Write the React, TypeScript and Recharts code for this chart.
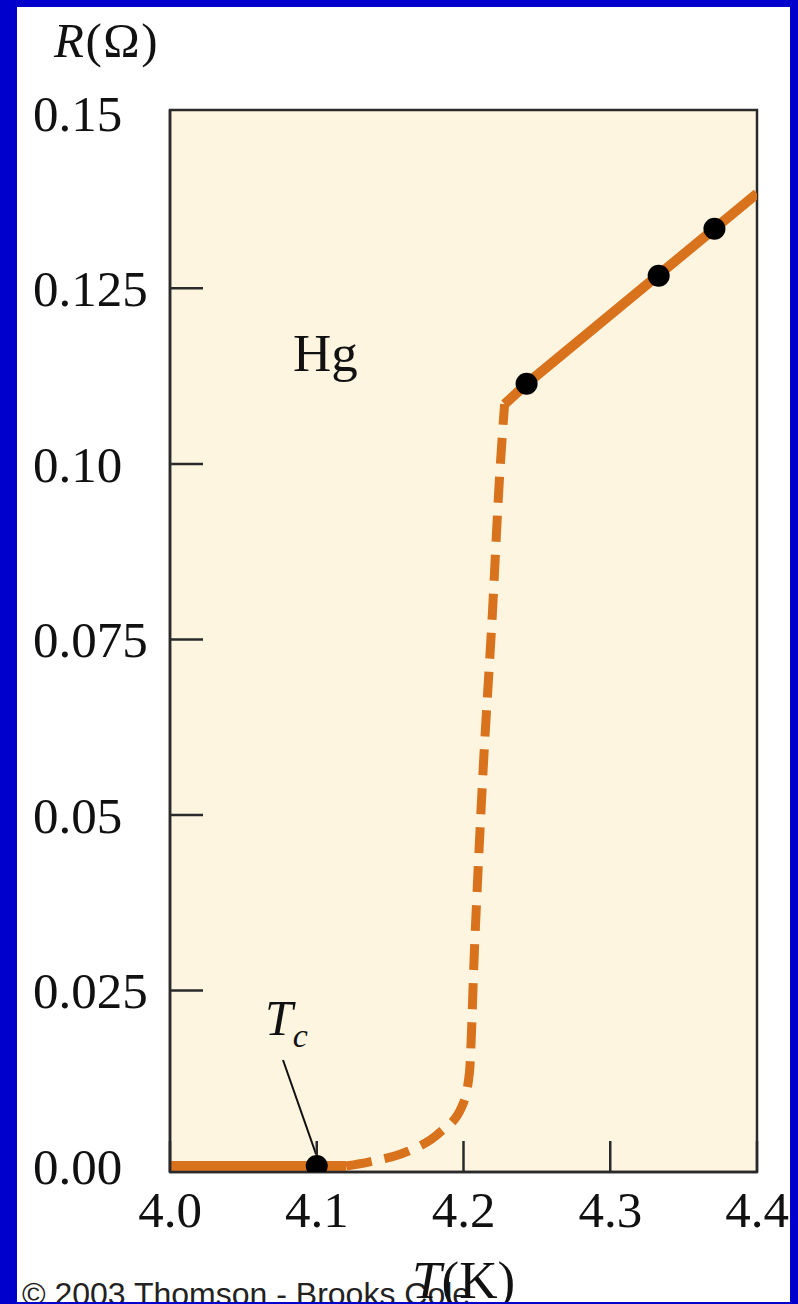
import React from 'react';
import { ComposedChart, Line, Scatter, XAxis, YAxis, ReferenceArea, ReferenceLine } from 'recharts';

// axis ticks
const xTicks = [4.0, 4.1, 4.2, 4.3, 4.4];
const xTickLabels = ['4.0', '4.1', '4.2', '4.3', '4.4'];
const yTicks = [0, 0.025, 0.05, 0.075, 0.1, 0.125, 0.15];
const yTickLabels = ['0.00', '0.025', '0.05', '0.075', '0.10', '0.125', '0.15'];

// superconducting part (solid, R = 0)
const superTemps = [4.0, 4.12];
const superRes = [0, 0];
// transition (dashed)
const transTemps = [4.12, 4.136, 4.161, 4.184, 4.199, 4.204, 4.2075, 4.213, 4.2197, 4.2245, 4.228];
const transRes = [0, 0.0006, 0.002, 0.0048, 0.0085, 0.0132, 0.031, 0.055, 0.0788, 0.0979, 0.1085];
// normal state (solid)
const normalTemps = [4.228, 4.243, 4.4];
const normalRes = [0.1085, 0.1114, 0.1385];
// measured points
const measTemps = [4.1, 4.243, 4.333, 4.371];
const measRes = [0, 0.1114, 0.1268, 0.1335];

const toRows = (ts: number[], rs: number[]) => ts.map((t, i) => ({ t, r: rs[i] }));
const superData = toRows(superTemps, superRes);
const transData = toRows(transTemps, transRes);
const normalData = toRows(normalTemps, normalRes);
const measData = toRows(measTemps, measRes);

const ORANGE = '#D8721C';
const CREAM = '#FEF5E0';
const INK = '#2a2a2a';
const SERIF = '"Liberation Serif", "DejaVu Serif", serif';
const PLOT_LEFT = 170;

// label at the left edge, tick mark pointing into the plot (none at the frame edges)
const YTick = (props: any) => {
  const i = yTicks.indexOf(props.payload.value);
  const edge = i === 0 || i === yTicks.length - 1;
  return (
    <g>
      {!edge && <line x1={PLOT_LEFT} x2={PLOT_LEFT + 33} y1={props.y} y2={props.y} stroke={INK} strokeWidth={2.5} />}
      <text x={33} y={props.y + 18} fontFamily={SERIF} fontSize={51} fill="#111" textAnchor="start">
        {yTickLabels[i]}
      </text>
    </g>
  );
};

const XTick = (props: any) => {
  const i = xTicks.indexOf(props.payload.value);
  return (
    <text x={props.x} y={1227} fontFamily={SERIF} fontSize={51} fill="#111" textAnchor="middle">
      {xTickLabels[i]}
    </text>
  );
};

const Dot = (props: any) => <circle cx={props.cx} cy={props.cy} r={11} fill="#000" />;

export default function App() {
  return (
    <div style={{ position: 'absolute', left: 0, top: 0, width: 798, height: 1304, background: '#fff', overflow: 'hidden' }}>
      <ComposedChart width={798} height={1304} margin={{ top: 110, right: 41, bottom: 72, left: 30 }}>
        <ReferenceArea x1={4.0} x2={4.4} y1={-0.00085} y2={0.1504} fill={CREAM} fillOpacity={1} stroke={INK} strokeWidth={2.5} />
        <XAxis
          type="number"
          dataKey="t"
          domain={[4.0, 4.4]}
          ticks={xTicks}
          allowDataOverflow
          height={60}
          tickSize={-31}
          tickMargin={0}
          tick={<XTick />}
          axisLine={{ stroke: INK, strokeWidth: 2.5 }}
          tickLine={{ stroke: INK, strokeWidth: 2.5 }}
        />
        <YAxis
          type="number"
          dataKey="r"
          domain={[-0.00085, 0.1504]}
          ticks={yTicks}
          allowDataOverflow
          width={140}
          tickSize={0}
          tickMargin={0}
          tick={<YTick />}
          axisLine={{ stroke: INK, strokeWidth: 2.5 }}
          tickLine={false}
        />
        <ReferenceLine
          segment={[{ x: 4.077, y: 0.0151 }, { x: 4.0995, y: 0.0017 }]}
          stroke="#111"
          strokeWidth={2}
        />
        <Line data={superData} dataKey="r" type="linear" stroke={ORANGE} strokeWidth={10} dot={false} isAnimationActive={false} />
        <Line data={transData} dataKey="r" type="monotone" stroke={ORANGE} strokeWidth={9} strokeDasharray="26 13" dot={false} isAnimationActive={false} />
        <Line data={normalData} dataKey="r" type="linear" stroke={ORANGE} strokeWidth={10} dot={false} isAnimationActive={false} />
        <Scatter data={measData} dataKey="r" fill="#000" shape={<Dot />} isAnimationActive={false} />
      </ComposedChart>

      <svg width={798} height={1304} style={{ position: 'absolute', left: 0, top: 0, pointerEvents: 'none' }}>
        <text x={54} y={57} fontFamily={SERIF} fontSize={49} fill="#111" letterSpacing={1.5}>
          <tspan fontStyle="italic">R</tspan>
          <tspan>(Ω)</tspan>
        </text>
        <text x={293} y={371} fontFamily={SERIF} fontSize={53} fill="#111">Hg</text>
        <text x={265} y={1035} fontFamily={SERIF} fontSize={50} fill="#111" fontStyle="italic">
          T<tspan fontSize={34} dy={12}>c</tspan>
        </text>
        <text x={22} y={1305} fontFamily='"Liberation Sans", Arial, sans-serif' fontSize={32} fill="#222">
          © 2003 Thomson - Brooks Cole
        </text>
        <text x={412} y={1298} fontFamily={SERIF} fontSize={53} fill="#111">
          <tspan fontStyle="italic">T</tspan>
          <tspan>(K)</tspan>
        </text>
      </svg>

      <div
        style={{
          position: 'absolute',
          left: 0,
          top: 0,
          width: 798,
          height: 1304,
          boxSizing: 'border-box',
          borderStyle: 'solid',
          borderColor: '#0000CC',
          borderWidth: '7px 8px 2px 17px',
          pointerEvents: 'none',
        }}
      />
    </div>
  );
}
